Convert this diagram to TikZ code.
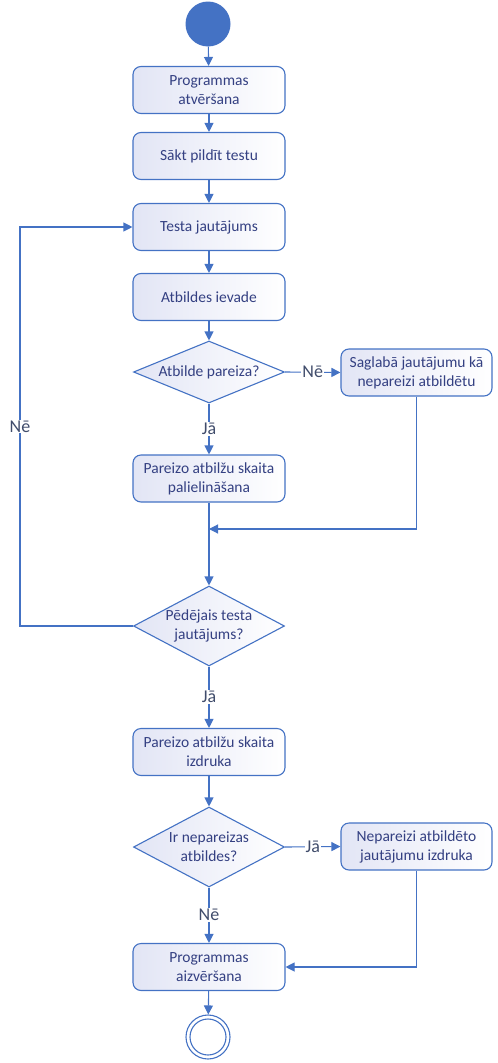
\documentclass[tikz,border=0pt]{standalone}
\usepackage{fontspec}
\setmainfont{Carlito}
\usetikzlibrary{shapes.geometric,arrows.meta}
\definecolor{ln}{RGB}{68,114,196}
\definecolor{tx}{RGB}{52,64,130}
\definecolor{lb}{RGB}{64,76,107}
\definecolor{fl}{RGB}{226,229,245}
\begin{document}
\begin{tikzpicture}[x=1pt,y=-1pt,
 box/.style={draw=ln, line width=1.1pt, rounded corners=8pt, left color=fl, right color=white,
   minimum width=152pt, minimum height=47pt, text=tx, align=center,
   font=\fontsize{15.5}{19}\selectfont, inner sep=1pt},
 dia/.style={diamond, draw=ln, line width=1.1pt, left color=fl, right color=white,
   minimum width=151pt, minimum height=62pt, inner sep=0pt, aspect=2.4},
 dtext/.style={text=tx, align=center, font=\fontsize{15.5}{19}\selectfont, inner sep=0pt},
 lab/.style={fill=white, text=lb, font=\fontsize{18}{20}\selectfont, inner sep=1pt},
 arr/.style={draw=ln, line width=1.1pt, -{Triangle[length=9pt,width=9pt]}},
 con/.style={draw=ln, line width=1.1pt}]
\useasboundingbox (0,0) rectangle (498,1063);

\node[circle, fill=ln, minimum size=45pt, inner sep=0pt] (start) at (208,24) {};
\node[box] (b1) at (209,90) {Programmas\\atvēršana};
\node[box] (b2) at (209,156) {Sākt pildīt testu};
\node[box] (b3) at (209,227) {Testa jautājums};
\node[box] (b4) at (209,297) {Atbildes ievade};
\node[dia, minimum height=62pt] (d1) at (209,372) {};
\node[dtext] (d1t) at (d1) {Atbilde pareiza?};
\node[box, minimum width=151pt] (b5) at (416.5,372.5) {Saglabā jautājumu kā\\nepareizi atbildētu};
\node[box] (b6) at (209,478.5) {Pareizo atbilžu skaita\\palielināšana};
\node[dia, minimum height=80pt] (d2) at (209,626) {};
\node[dtext] (d2t) at (d2) {Pēdējais testa\\jautājums?};
\node[box] (b7) at (209,752) {Pareizo atbilžu skaita\\izdruka};
\node[dia, minimum height=80pt] (d3) at (209,847) {};
\node[dtext] (d3t) at (d3) {Ir nepareizas\\atbildes?};
\node[box, minimum width=151pt] (b8) at (416.5,846.5) {Nepareizi atbildēto\\jautājumu izdruka};
\node[box] (b9) at (209,967) {Programmas\\aizvēršana};
\node[circle, draw=ln, line width=1.1pt, fill=white, minimum size=44pt, inner sep=0pt] (end) at (208,1037) {};
\node[circle, draw=ln, line width=1.1pt, minimum size=36pt, inner sep=0pt] (endi) at (end) {};

\draw[arr] (start) -- (b1);
\draw[arr] (b1) -- (b2);
\draw[arr] (b2) -- (b3);
\draw[arr] (b3) -- (b4);
\draw[arr] (b4) -- (d1);
\draw[arr] (d1.east) -- node[lab]{Nē} (b5.west);
\draw[arr] (d1.south) -- node[lab]{Jā} (b6.north);
\coordinate (m1) at (209,529);
\draw[con] (b6.south) -- (m1);
\draw[arr] (b5.south) |- (m1);
\draw[arr] (m1) -- (d2.north);
\draw[arr] (d2.west) -- (20,626) -- node[lab]{Nē} (20,227) -- (b3.west);
\draw[arr] (d2.south) -- node[lab]{Jā} (b7.north);
\draw[arr] (b7) -- (d3);
\draw[arr] (d3.east) -- node[lab]{Jā} (b8.west);
\draw[arr] (d3.south) -- node[lab]{Nē} (b9.north);
\draw[arr] (b8.south) |- (b9.east);
\draw[arr] (b9) -- (end);
\end{tikzpicture}
\end{document}
